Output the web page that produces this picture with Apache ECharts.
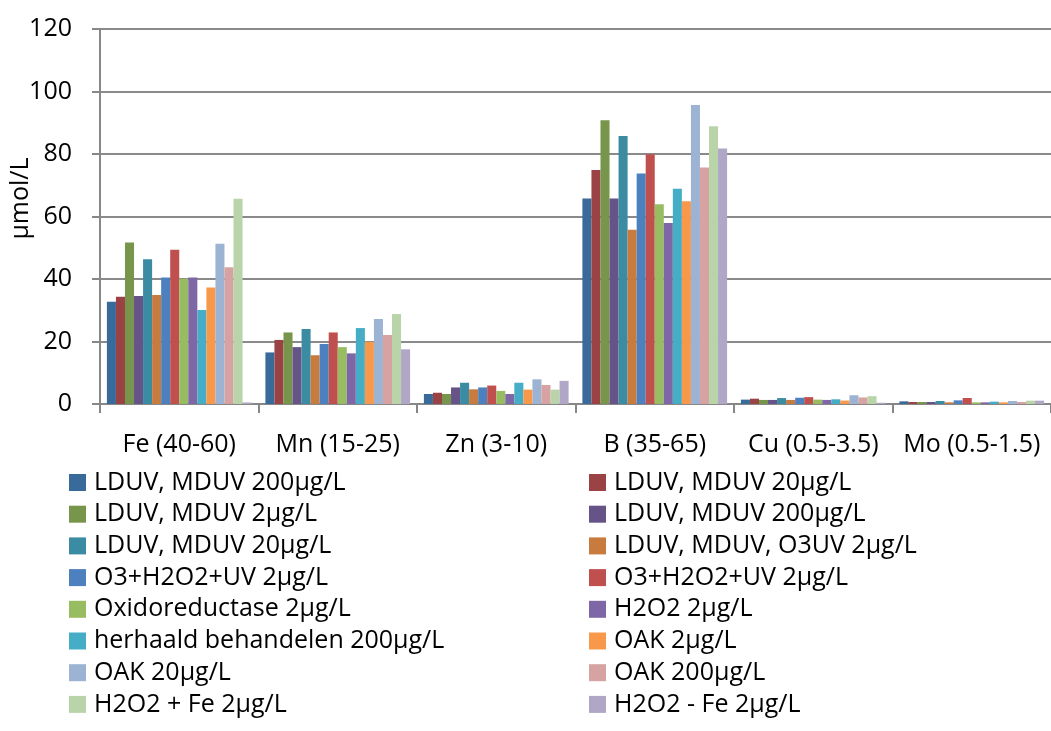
<!DOCTYPE html>
<html><head><meta charset="utf-8">
<script src="https://cdn.jsdelivr.net/npm/echarts@6/dist/echarts.min.js"></script>
<style>html,body{margin:0;padding:0;background:#fff}#c{width:1051px;height:731px}</style>
</head><body><div id="c"></div>
<script>
const categories = ['Fe (40-60)','Mn (15-25)','Zn (3-10)','B (35-65)','Cu (0.5-3.5)','Mo (0.5-1.5)'];
const seriesNames = [
 'LDUV, MDUV 200µg/L','LDUV, MDUV 20µg/L','LDUV, MDUV 2µg/L','LDUV, MDUV 200µg/L',
 'LDUV, MDUV 20µg/L','LDUV, MDUV, O3UV 2µg/L','O3+H2O2+UV 2µg/L','O3+H2O2+UV 2µg/L',
 'Oxidoreductase 2µg/L','H2O2 2µg/L','herhaald behandelen 200µg/L','OAK 2µg/L',
 'OAK 20µg/L','OAK 200µg/L','H2O2 + Fe 2µg/L','H2O2 - Fe 2µg/L'];
const s1  = [32.7, 16.5, 3.2, 65.8, 1.4, 0.85];
const s2  = [34.3, 20.5, 3.6, 74.9, 1.7, 0.64];
const s3  = [51.7, 22.9, 3.2, 90.8, 1.3, 0.64];
const s4  = [34.6, 18.2, 5.3, 65.8, 1.3, 0.64];
const s5  = [46.3, 24.0, 6.8, 85.8, 1.9, 0.96];
const s6  = [34.9, 15.6, 4.7, 55.8, 1.3, 0.53];
const s7  = [40.5, 19.2, 5.3, 73.8, 2.0, 1.17];
const s8  = [49.4, 22.9, 5.9, 79.9, 2.2, 1.92];
const s9  = [40.1, 18.2, 4.2, 63.9, 1.4, 0.53];
const s10 = [40.5, 16.2, 3.2, 57.9, 1.3, 0.53];
const s11 = [30.1, 24.3, 6.8, 68.9, 1.5, 0.75];
const s12 = [37.3, 19.9, 4.6, 64.9, 1.1, 0.53];
const s13 = [51.3, 27.2, 7.9, 95.7, 2.8, 0.96];
const s14 = [43.8, 22.1, 6.1, 75.7, 2.1, 0.64];
const s15 = [65.7, 28.8, 4.6, 88.9, 2.5, 1.07];
const s16 = [0.5, 17.5, 7.4, 81.8, 0.4, 1.07];
const values = [s1,s2,s3,s4,s5,s6,s7,s8,s9,s10,s11,s12,s13,s14,s15,s16];
const colors = ['#386a9a','#9a4244','#77964b','#665489','#3b8ca2','#c87b3e','#4c80be','#c0504e',
 '#98bc62','#7f66a6','#46adc6','#f7984a','#9db3d3','#d6a3a2','#bad4aa','#b0a6c6'];
const yTicks = {min:0, max:120, interval:20};
const FONT = 'Open Sans';
const FS = 25;

const series = values.map((v,i)=>({
  name: seriesNames[i] + '\u200B'.repeat(i), type:'bar', data:v,
  barGap:'0%', barCategoryGap:'8.7%',
  itemStyle:{color:colors[i]}
}));
const legendItem = (i)=>({name: seriesNames[i] + '\u200B'.repeat(i)});
const legendBase = {
  orient:'vertical', itemWidth:17, itemHeight:17, itemGap:6.7, icon:'rect', height:300, padding:0,
  textStyle:{fontFamily:FONT, fontSize:FS, color:'#000', padding:[0,0,0,3]},
  selectedMode:false, formatter: n => n.replace(/\u200B/g,'')
};
const chart = echarts.init(document.getElementById('c'));
chart.setOption({
  animation:false,
  color: colors,
  grid:{left:100, top:29, right:0, bottom:327, containLabel:false, outerBoundsMode:'none'},
  xAxis:{type:'category', data:categories,
    axisLine:{lineStyle:{color:'#878787', width:2}},
    axisTick:{show:true, length:9, lineStyle:{color:'#878787', width:2}},
    axisLabel:{fontFamily:FONT, fontSize:FS, color:'#000', margin:28, interval:0}},
  yAxis:{type:'value', min:yTicks.min, max:yTicks.max, interval:yTicks.interval,
    name:'µmol/L', nameLocation:'middle', nameGap:67, nameRotate:90, nameMoveOverlap:false,
    nameTextStyle:{fontFamily:FONT, fontSize:FS, color:'#000', padding:[0,0,0,36]},
    axisLine:{show:true, lineStyle:{color:'#878787', width:2}},
    axisTick:{show:true, length:8, lineStyle:{color:'#878787', width:2}},
    splitLine:{lineStyle:{color:'#8a8a8a', width:2}},
    axisLabel:{fontFamily:FONT, fontSize:FS, color:'#000', margin:28}},
  legend:[
    Object.assign({}, legendBase, {left:69, top:470, data:[0,2,4,6,8,10,12,14].map(legendItem)}),
    Object.assign({}, legendBase, {left:589, top:470, data:[1,3,5,7,9,11,13,15].map(legendItem)})
  ],
  series: series
});
</script></body></html>
